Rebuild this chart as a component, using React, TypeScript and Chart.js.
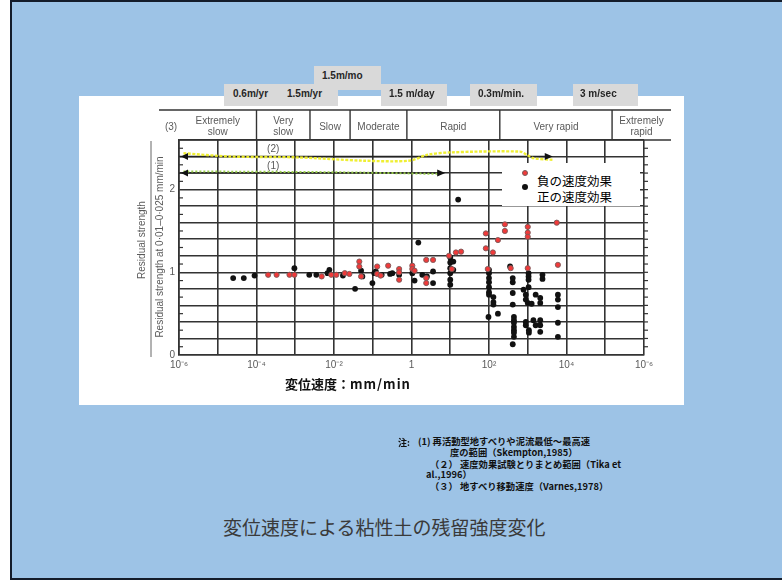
import React, { useEffect, useRef } from 'react';
import { Chart, registerables } from 'chart.js';

Chart.register(...registerables);

// Varnes (1978) velocity classes: boundaries in mm/min and class names
const classBounds = [1.0e-4, 2.4e-3, 2.6e-2, 0.76, 190, 1.5e5];
const classNames = [
  ['Extremely', 'slow'],
  ['Very', 'slow'],
  ['Slow'],
  ['Moderate'],
  ['Rapid'],
  ['Very rapid'],
  ['Extremely', 'rapid'],
];

const xTickValues = [1e-6, 1e-5, 1e-4, 1e-3, 1e-2, 1e-1, 1, 10, 100, 1e3, 1e4, 1e5, 1e6];
const xTickLabels = ['10⁻⁶', '', '10⁻⁴', '', '10⁻²', '', '1', '', '10²', '', '10⁴', '', '10⁻⁶'];
const yTickLabels = ['0', '1', '2'];

// negative rate effect (red)
const negRate = [
  2.0e-4, 3.3e-4, 7.1e-4, 9.5e-4, 4.8e-3, 8.5e-3, 0.0115, 0.019, 0.025,
  0.045, 0.045, 0.05, 0.13, 0.13, 0.16, 0.25, 0.48, 0.48, 0.48,
  1.05, 1.05, 1.2, 2.4, 3.6, 2.4, 2.4, 9.3, 14, 19, 11,
  83, 83, 93, 126, 170, 257, 257, 363, 1000, 1000, 1000, 1000, 5600, 6000,
];
const negRatio = [
  0.97, 0.97, 0.97, 0.97, 0.95, 0.97, 0.97, 0.99, 0.98,
  1.13, 1.07, 0.95, 1.07, 0.98, 0.96, 1.08, 1.04, 1.0, 0.91,
  1.08, 1.04, 1.02, 1.15, 1.15, 0.93, 0.87, 1.2, 1.24, 1.25, 1.04,
  1.47, 1.29, 1.04, 1.24, 1.39, 1.58, 1.5, 1.05, 1.55, 1.48, 1.43, 1.05, 1.6, 1.09,
];

// positive rate effect (black)
const posRate = [
  2.5e-5, 4.7e-5, 8.9e-5, 9.5e-4, 2.3e-3, 3.5e-3, 6.8e-3, 7.6e-3, 0.017, 0.035,
  0.05, 0.054, 0.098, 0.11, 0.12, 0.17, 0.28, 0.32, 0.48,
  1.05, 1.2, 1.5, 1.9, 2.5, 3.6, 3.6,
  10, 10, 10, 10, 10, 10, 12, 12, 16,
  100, 100, 100, 100, 100, 100, 100, 97, 130, 130, 130, 170, 350,
  410, 410, 410, 410, 440, 440, 440, 440, 440, 440, 440, 410,
  780, 890, 890, 1000, 890, 890, 1070, 1070, 1050, 1050, 1050, 1050,
  1260, 1400, 1600, 1600, 2100, 2100, 2100, 2100, 2100, 2400, 2400,
  6000, 6000, 6000, 6000, 6000,
];
const posRatio = [
  0.93, 0.93, 0.96, 1.05, 0.97, 0.97, 0.99, 1.03, 0.96, 0.8,
  1.02, 0.95, 0.87, 0.99, 1.01, 0.97, 0.98, 0.99, 0.97,
  0.99, 0.9, 1.36, 0.97, 0.95, 1.01, 0.87,
  1.18, 1.12, 1.05, 0.99, 0.91, 0.85, 1.13, 1.03, 1.88,
  1.03, 0.99, 0.93, 0.88, 0.82, 0.76, 0.73, 0.46, 0.7, 0.64, 0.61, 0.5, 1.07,
  0.93, 0.88, 0.75, 0.61, 0.46, 0.42, 0.39, 0.34, 0.3, 0.27, 0.22, 0.13,
  0.79, 0.73, 0.67, 0.63, 0.4, 0.36, 0.3, 0.27, 0.99, 0.95, 0.91, 0.82,
  0.62, 0.42, 0.36, 0.73, 0.69, 0.63, 0.42, 0.36, 0.28, 0.97, 0.92,
  0.73, 0.67, 0.58, 0.39, 0.22,
];

// ranges (1) and (2): arrows along the top of the plot
const range1Rate = [1e-6, 6.2];
const range1Ratio = [2.2, 2.2];
const range2Rate = [1e-6, 3700];
const range2Ratio = [2.4, 2.4];
const rangeLabels = ['(1)', '(2)'];
const rangeLabelRate = 2.7e-4;

// marker-pen strokes over the two ranges
const mark2Rate = [1.3e-6, 2.1e-5, 1.1e-3, 0.056, 0.91, 2.5, 9.8, 630, 950, 1400, 4500];
const mark2Ratio = [2.44, 2.4, 2.39, 2.35, 2.35, 2.42, 2.45, 2.46, 2.42, 2.38, 2.36];
const mark1Rate = [1.3e-6, 1e-2, 5.5];
const mark1Ratio = [2.22, 2.21, 2.19];

const pts = (xs: number[], ys: number[]) => xs.map((v, i) => ({ x: v, y: ys[i] }));

const LINE = '#333333';
const TEXT = '#5a5a5a';
const FONT = '"Liberation Sans", Arial, sans-serif';
const JP = '"Noto Sans CJK JP", "Noto Sans", sans-serif';

const decorPlugin = {
  id: 'decor',
  afterDraw(chart: any) {
    const { ctx, chartArea: a, scales } = chart;
    const x = scales.x;
    const y = scales.y;
    ctx.save();
    const seg = (x1: number, y1: number, x2: number, y2: number) => {
      ctx.beginPath();
      ctx.moveTo(x1, y1);
      ctx.lineTo(x2, y2);
      ctx.stroke();
    };

    // velocity-class table above the plot
    const tTop = a.top - 30;
    const tLeft = a.left - 20;
    const tRight = a.right + 27;
    ctx.strokeStyle = LINE;
    ctx.lineWidth = 1.4;
    seg(tLeft, tTop, tRight, tTop);
    seg(a.left, a.top, tRight, a.top);
    const edges = [a.left, ...classBounds.map((v) => x.getPixelForValue(v)), tRight];
    classBounds.forEach((v) => {
      const px = x.getPixelForValue(v);
      seg(px, tTop, px, a.top);
    });
    ctx.fillStyle = TEXT;
    ctx.font = `10px ${FONT}`;
    ctx.textAlign = 'center';
    ctx.textBaseline = 'middle';
    ctx.fillText('(3)', a.left - 8, a.top - 13);
    classNames.forEach((lines, i) => {
      const cx = (edges[i] + edges[i + 1]) / 2;
      if (lines.length === 1) ctx.fillText(lines[0], cx, a.top - 13);
      else {
        ctx.fillText(lines[0], cx, a.top - 19);
        ctx.fillText(lines[1], cx, a.top - 8);
      }
    });

    // y-axis title written as a ratio
    ctx.fillStyle = TEXT;
    ctx.font = `10px ${FONT}`;
    ctx.save();
    ctx.translate(a.left - 37, a.top + 100);
    ctx.rotate(-Math.PI / 2);
    ctx.fillText('Residual strength', 0, 0);
    ctx.restore();
    ctx.save();
    ctx.translate(a.left - 19, a.top + 107);
    ctx.rotate(-Math.PI / 2);
    ctx.fillText('Residual strength at 0·01–0·025 mm/min', 0, 0);
    ctx.restore();
    ctx.lineWidth = 1;
    ctx.strokeStyle = '#666';
    seg(a.left - 28, a.top + 1, a.left - 28, a.bottom + 2);

    // minor ticks every 0.1
    ctx.strokeStyle = LINE;
    ctx.lineWidth = 1.2;
    for (let k = 1; k < 26; k++) {
      const py = y.getPixelForValue(k / 10);
      if (k % 2 === 1) seg(a.left, py, a.left + 4, py);
      seg(a.right, py, a.right + 4, py);
    }

    // arrow heads for ranges (1) and (2)
    [2, 3].forEach((di) => {
      const meta = chart.getDatasetMeta(di);
      const p0 = meta.data[0];
      const p1 = meta.data[meta.data.length - 1];
      ctx.fillStyle = '#111';
      ctx.beginPath();
      ctx.moveTo(p0.x + 2, p0.y);
      ctx.lineTo(p0.x + 9, p0.y - 3.5);
      ctx.lineTo(p0.x + 9, p0.y + 3.5);
      ctx.closePath();
      ctx.fill();
      ctx.beginPath();
      ctx.moveTo(p1.x + 3, p1.y);
      ctx.lineTo(p1.x - 5, p1.y - 3.5);
      ctx.lineTo(p1.x - 5, p1.y + 3.5);
      ctx.closePath();
      ctx.fill();
    });

    // range labels
    ctx.fillStyle = TEXT;
    ctx.font = `10px ${FONT}`;
    ctx.textAlign = 'center';
    const lx = x.getPixelForValue(rangeLabelRate);
    ctx.fillText(rangeLabels[1], lx, y.getPixelForValue(2.5) + 1);
    ctx.fillText(rangeLabels[0], lx, y.getPixelForValue(2.3) + 1);
    ctx.restore();
  },
};

const Txt = (p: { x: number; y: number; size: number; bold?: boolean; color?: string; family?: string; children: any; ls?: number }) => (
  <div
    style={{
      position: 'absolute',
      left: p.x,
      top: p.y,
      transform: 'translateY(-50%)',
      fontSize: p.size,
      lineHeight: 1,
      fontWeight: p.bold ? 700 : 400,
      color: p.color || '#111',
      fontFamily: p.family || JP,
      whiteSpace: 'nowrap',
      letterSpacing: p.ls || 0,
    }}
  >
    {p.children}
  </div>
);

const GreyBox = (p: { x: number; y: number; w: number; h: number; tx: number; ty: number; label: string }) => (
  <>
    <div style={{ position: 'absolute', left: p.x, top: p.y, width: p.w, height: p.h, background: '#d9d9d9' }} />
    <Txt x={p.tx} y={p.ty} size={10} bold color="#262626" family={FONT}>
      {p.label}
    </Txt>
  </>
);

export default function App() {
  const ref = useRef<HTMLCanvasElement>(null);

  useEffect(() => {
    const canvas = ref.current!;
    const chart = new Chart(canvas, {
      type: 'scatter',
      data: {
        datasets: [
          {
            label: '負の速度効果',
            data: pts(negRate, negRatio),
            backgroundColor: '#f03a3a',
            borderColor: '#7a5a5a',
            borderWidth: 0.9,
            pointRadius: 2.6,
            order: 0,
          },
          {
            label: '正の速度効果',
            data: pts(posRate, posRatio),
            backgroundColor: '#111',
            borderColor: '#111',
            borderWidth: 0,
            pointRadius: 2.9,
            order: 1,
          },
          {
            label: '(1)',
            data: pts(range1Rate, range1Ratio),
            showLine: true,
            borderColor: '#222',
            borderWidth: 1.4,
            pointRadius: 0,
            order: 3,
          },
          {
            label: '(2)',
            data: pts(range2Rate, range2Ratio),
            showLine: true,
            borderColor: '#222',
            borderWidth: 1.4,
            pointRadius: 0,
            order: 3,
          },
          {
            label: 'mark2',
            data: pts(mark2Rate, mark2Ratio),
            showLine: true,
            borderColor: 'rgba(238,238,40,0.95)',
            borderWidth: 2.4,
            borderDash: [3, 1.5],
            tension: 0.3,
            pointRadius: 0,
            order: 2,
          },
          {
            label: 'mark1',
            data: pts(mark1Rate, mark1Ratio),
            showLine: true,
            borderColor: 'rgba(150,205,70,0.95)',
            borderWidth: 2,
            borderDash: [2, 2],
            tension: 0.3,
            pointRadius: 0,
            order: 2,
          },
        ],
      },
      options: {
        animation: false,
        responsive: false,
        devicePixelRatio: 1,
        events: [],
        layout: { padding: { top: 44, right: 40, bottom: 0, left: 0 } },
        plugins: { legend: { display: false }, tooltip: { enabled: false } },
        scales: {
          x: {
            type: 'logarithmic',
            min: 1e-6,
            max: 1e6,
            afterBuildTicks: (s: any) => {
              s.ticks = xTickValues.map((v) => ({ value: v }));
            },
            afterFit: (s: any) => {
              s.height = 50;
              s.paddingLeft = 0;
              s.paddingRight = 0;
            },
            ticks: {
              autoSkip: false,
              maxRotation: 0,
              minRotation: 0,
              padding: 4,
              color: TEXT,
              font: { size: 10, family: FONT },
              callback: (_v: any, i: number) => xTickLabels[i],
            },
            grid: { color: LINE, lineWidth: 1.6, drawTicks: false },
            border: { color: LINE, width: 1.6 },
          },
          y: {
            min: 0,
            max: 2.6,
            afterFit: (s: any) => {
              s.width = 100;
            },
            ticks: {
              stepSize: 0.2,
              autoSkip: false,
              padding: 4,
              color: TEXT,
              font: { size: 10, family: FONT },
              callback: (v: any) => {
                const r = Math.round(Number(v));
                return Math.abs(Number(v) - r) < 1e-6 && yTickLabels.includes(String(r)) ? String(r) : '';
              },
            },
            grid: { color: LINE, lineWidth: 1.6, drawTicks: false },
            border: { color: LINE, width: 1.6 },
          },
        },
      },
      plugins: [decorPlugin],
    } as any);
    return () => chart.destroy();
  }, []);

  return (
    <div style={{ position: 'fixed', left: 0, top: 0, width: 782, height: 580, background: '#fff', overflow: 'hidden' }}>
      <div
        style={{
          position: 'absolute',
          left: 10,
          top: 0,
          width: 800,
          height: 576,
          background: '#9dc3e6',
          borderTop: '2px solid #141c2a',
          borderLeft: '2px solid #141c2a',
          borderBottom: '2px solid #141c2a',
        }}
      />
      <div style={{ position: 'absolute', left: 79, top: 96, width: 605, height: 309, background: '#fff' }}>
        <canvas ref={ref} width={605} height={309} style={{ display: 'block', width: 605, height: 309 }} />
      </div>

      <GreyBox x={314} y={66} w={67} h={24} tx={322} ty={76} label="1.5m/mo" />
      <GreyBox x={224} y={84} w={59} h={22} tx={233} ty={94} label="0.6m/yr" />
      <GreyBox x={283} y={84} w={55} h={22} tx={287} ty={94} label="1.5m/yr" />
      <GreyBox x={381} y={84} w={66} h={22} tx={389} ty={94} label="1.5 m/day" />
      <GreyBox x={470} y={84} w={67} h={22} tx={478} ty={94} label="0.3m/min." />
      <GreyBox x={573} y={84} w={65} h={22} tx={580} ty={94} label="3 m/sec" />

      {/* legend */}
      <div style={{ position: 'absolute', left: 502, top: 163, width: 138, height: 43, background: '#fff' }} />
      <div style={{ position: 'absolute', left: 522, top: 170, width: 6, height: 6, borderRadius: 3, background: '#f03a3a', boxSizing: 'border-box', border: '1px solid #7a5a5a' }} />
      <div style={{ position: 'absolute', left: 522, top: 184, width: 6, height: 6, borderRadius: 3, background: '#111' }} />
      <Txt x={537} y={181} size={12.5} color="#000">負の速度効果</Txt>
      <Txt x={537} y={197} size={12.5} color="#000">正の速度効果</Txt>

      <Txt x={285} y={383} size={13} bold color="#111">
        変位速度：<span style={{ letterSpacing: 1 }}>mm/min</span>
      </Txt>

      <Txt x={398} y={442} size={9} bold>注:</Txt>
      <Txt x={418} y={442} size={9.3} bold>(1) 再活動型地すべりや泥流最低～最高速</Txt>
      <Txt x={450} y={453} size={9.3} bold>度の範囲（Skempton,1985）</Txt>
      <Txt x={430} y={465} size={9.3} bold>（２） 速度効果試験とりまとめ範囲（Tika et</Txt>
      <Txt x={426} y={475} size={9.3} bold>al.,1996）</Txt>
      <Txt x={430} y={487} size={9.3} bold>（３） 地すべり移動速度（Varnes,1978）</Txt>

      <Txt x={223} y={526} size={19} color="#3a3a3a">変位速度による粘性土の残留強度変化</Txt>
    </div>
  );
}
